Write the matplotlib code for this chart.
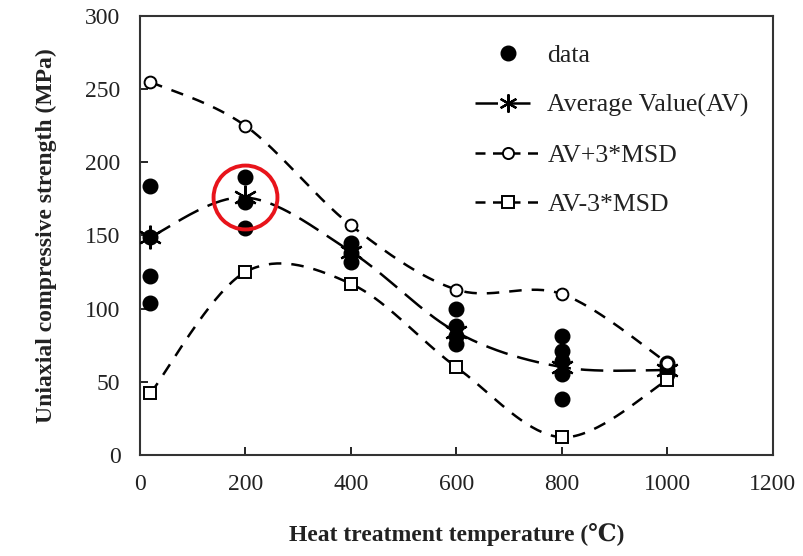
import numpy as np
import matplotlib.pyplot as plt

# values
temps = [20, 200, 400, 600, 800, 1000]
av = [149, 176, 139, 84, 60, 58]
av_plus = [255, 225, 157, 113, 110, 63]
av_minus = [42, 125, 117, 60, 12, 51]

data_x = [20, 20, 20, 20, 200, 200, 200, 400, 400, 400,
          600, 600, 600, 600, 800, 800, 800, 800, 800, 1000, 1000, 1000]
data_y = [184, 149, 122, 104, 190, 173, 155, 145, 138, 132,
          100, 88, 81, 76, 81, 71, 64, 55, 38, 63, 58, 55]

x_ticks = [0, 200, 400, 600, 800, 1000, 1200]
y_ticks = [0, 50, 100, 150, 200, 250, 300]

plt.rcParams['font.family'] = ['Liberation Serif', 'DejaVu Serif', 'Noto Sans CJK SC']
plt.rcParams['font.size'] = 17
txt_col = '#222222'


def smooth(xs, ys, n=40):
    # Excel-style smoothed line: Bezier segments with Catmull-Rom control points
    px = np.array(xs, dtype=float)
    py = np.array(ys, dtype=float)
    px = np.concatenate([[px[0]], px, [px[-1]]])
    py = np.concatenate([[py[0]], py, [py[-1]]])
    t = np.linspace(0, 1, n)[:, None]
    out = []
    for i in range(1, len(px) - 2):
        p0 = np.array([px[i], py[i]])
        p3 = np.array([px[i + 1], py[i + 1]])
        c1 = p0 + (np.array([px[i + 1], py[i + 1]]) - np.array([px[i - 1], py[i - 1]])) / 6
        c2 = p3 - (np.array([px[i + 2], py[i + 2]]) - np.array([px[i], py[i]])) / 6
        seg = ((1 - t) ** 3) * p0 + 3 * ((1 - t) ** 2) * t * c1 + 3 * (1 - t) * t ** 2 * c2 + t ** 3 * p3
        out.append(seg if i == 1 else seg[1:])
    pts = np.vstack(out)
    return pts[:, 0], pts[:, 1]


fig = plt.figure(figsize=(8.04, 5.56), dpi=100)
ax = fig.add_axes([0.174, 0.182, 0.787, 0.789])

ax.plot(data_x, data_y, 'o', color='black', ms=10.5, label='data', zorder=4)

sx, sy = smooth(temps, av)
ax.plot(sx, sy, color='black', lw=1.8, dashes=(9, 4), zorder=3)
sx, sy = smooth(temps, av_plus)
ax.plot(sx, sy, color='black', lw=1.8, dashes=(5, 4), zorder=3)
sx, sy = smooth(temps, av_minus)
ax.plot(sx, sy, color='black', lw=1.8, dashes=(5, 4), zorder=3)

ast = (6, 2, 0)
ax.plot(temps, av, ls='none', marker=ast, ms=17, mew=1.6, color='black', zorder=5)
ax.plot(temps, av_plus, ls='none', marker='o', ms=8.5, mfc='white', mec='black', mew=1.4, zorder=5)
ax.plot(temps, av_minus, ls='none', marker='s', ms=8.5, mfc='white', mec='black', mew=1.4, zorder=5)

# red highlight ring around the 200 degC average
ax.plot(temps[1], av[1], marker='o', ms=46, mfc='none', mec='#e8141b', mew=2.8, zorder=6)

# legend proxies
l_data, = ax.plot([], [], 'o', color='black', ms=10.5)
l_av, = ax.plot([], [], color='black', lw=1.8, dashes=(9, 4), marker=ast, ms=13, mew=1.6)
l_pl, = ax.plot([], [], color='black', lw=1.8, dashes=(4, 3), marker='o', ms=8, mfc='white', mec='black', mew=1.4)
l_mi, = ax.plot([], [], color='black', lw=1.8, dashes=(4, 3), marker='s', ms=8, mfc='white', mec='black', mew=1.4)
ax.legend([l_data, l_av, l_pl, l_mi],
          ['data', 'Average Value(AV)', 'AV+3*MSD', 'AV-3*MSD'],
          loc='upper left', bbox_to_anchor=(0.51, 0.965), frameon=False,
          fontsize=18.5, handlelength=2.5, labelspacing=1.03, borderpad=0,
          handletextpad=0.3, labelcolor=txt_col)

ax.set_xlim(0, 1200)
ax.set_ylim(0, 300)
ax.set_xticks(x_ticks)
ax.set_yticks(y_ticks)
ax.tick_params(direction='in', length=6, width=1.2, colors='black', labelcolor=txt_col, pad=14)
for s in ax.spines.values():
    s.set_linewidth(1.5)
    s.set_color('#333333')

ax.set_xlabel('Heat treatment temperature (℃)', fontweight='bold', color=txt_col, labelpad=20)
ax.set_ylabel('Uniaxial compressive strength (MPa)', fontweight='bold', color=txt_col, labelpad=20)

fig.savefig('out.png', dpi=100)
